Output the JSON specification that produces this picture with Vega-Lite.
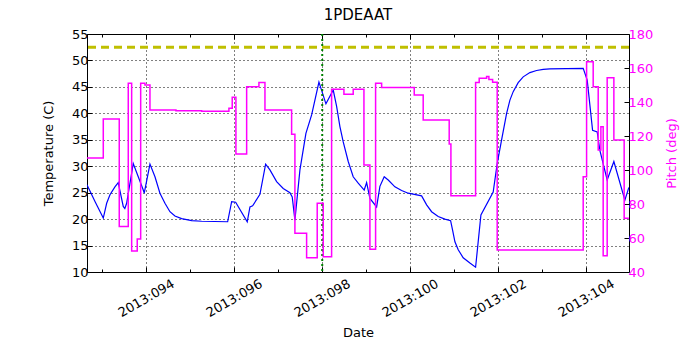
{
  "$schema": "https://vega.github.io/schema/vega-lite/v6.json",
  "width": 542,
  "height": 238,
  "autosize": {"type": "none"},
  "padding": {"left": 87, "top": 34, "right": 71, "bottom": 78},
  "background": "white",
  "config": {
    "font": "DejaVu Sans",
    "view": {"stroke": "black", "strokeWidth": 1},
    "axis": {"labelFont": "DejaVu Sans", "titleFont": "DejaVu Sans", "labelFontSize": 13, "titleFontSize": 13, "titleFontWeight": "normal", "labelColor": "black", "titleColor": "black", "tickColor": "black", "domain": false}
  },
  "title": {"text": "1PDEAAT", "fontSize": 15, "fontWeight": "normal", "font": "DejaVu Sans", "offset": 5, "color": "black"},
  "datasets": {
    "temp": [
      {"day": 92.659, "t": 26.5}, {"day": 92.85, "t": 23.2}, {"day": 93.03, "t": 20.2}, {"day": 93.107, "t": 23.0},
      {"day": 93.182, "t": 24.6}, {"day": 93.295, "t": 26.1}, {"day": 93.37, "t": 26.9},
      {"day": 93.484, "t": 22.4}, {"day": 93.52, "t": 22.0}, {"day": 93.561, "t": 23.0}, {"day": 93.711, "t": 30.5},
      {"day": 93.825, "t": 28.0}, {"day": 93.939, "t": 25.5}, {"day": 93.961, "t": 24.9}, {"day": 94.091, "t": 30.4},
      {"day": 94.205, "t": 28.0}, {"day": 94.318, "t": 24.9}, {"day": 94.432, "t": 23.0}, {"day": 94.545, "t": 21.4},
      {"day": 94.659, "t": 20.6}, {"day": 94.811, "t": 20.1}, {"day": 95.039, "t": 19.7}, {"day": 95.266, "t": 19.6},
      {"day": 95.857, "t": 19.5},
      {"day": 95.948, "t": 23.3}, {"day": 96.039, "t": 23.2}, {"day": 96.302, "t": 19.5}, {"day": 96.364, "t": 22.3},
      {"day": 96.425, "t": 22.5}, {"day": 96.591, "t": 24.7}, {"day": 96.72, "t": 30.4}, {"day": 96.818, "t": 29.3},
      {"day": 96.97, "t": 27.1}, {"day": 97.12, "t": 25.8}, {"day": 97.273, "t": 25.0}, {"day": 97.325, "t": 24.2},
      {"day": 97.386, "t": 19.8},
      {"day": 97.5, "t": 29.3}, {"day": 97.636, "t": 36.2}, {"day": 97.766, "t": 39.7}, {"day": 97.932, "t": 45.9},
      {"day": 98.091, "t": 41.8}, {"day": 98.257, "t": 44.4}, {"day": 98.334, "t": 41.3}, {"day": 98.409, "t": 37.5},
      {"day": 98.484, "t": 34.6}, {"day": 98.598, "t": 30.9}, {"day": 98.711, "t": 28.0}, {"day": 98.825, "t": 26.8},
      {"day": 98.961, "t": 25.5}, {"day": 99.016, "t": 26.9},
      {"day": 99.091, "t": 23.9}, {"day": 99.243, "t": 22.3}, {"day": 99.318, "t": 26.2}, {"day": 99.416, "t": 28.0},
      {"day": 99.507, "t": 27.4}, {"day": 99.659, "t": 26.1}, {"day": 99.811, "t": 25.4}, {"day": 99.961, "t": 24.9},
      {"day": 100.266, "t": 24.4}, {"day": 100.38, "t": 22.7}, {"day": 100.493, "t": 21.4}, {"day": 100.643, "t": 20.5},
      {"day": 100.795, "t": 20.0}, {"day": 100.925, "t": 19.7}, {"day": 100.97, "t": 17.9}, {"day": 101.023, "t": 15.7},
      {"day": 101.098, "t": 14.2}, {"day": 101.211, "t": 12.7}, {"day": 101.364, "t": 11.7}, {"day": 101.493, "t": 10.9},
      {"day": 101.614, "t": 20.8}, {"day": 101.893, "t": 25.1},
      {"day": 101.984, "t": 30.5}, {"day": 102.084, "t": 35.0}, {"day": 102.198, "t": 40.0}, {"day": 102.273, "t": 42.5},
      {"day": 102.348, "t": 44.1}, {"day": 102.461, "t": 45.8}, {"day": 102.575, "t": 46.9}, {"day": 102.727, "t": 47.7},
      {"day": 102.879, "t": 48.1}, {"day": 103.03, "t": 48.3}, {"day": 103.182, "t": 48.4}, {"day": 103.939, "t": 48.5},
      {"day": 104.03, "t": 46.3}, {"day": 104.152, "t": 36.8}, {"day": 104.257, "t": 36.5}, {"day": 104.318, "t": 33.0},
      {"day": 104.484, "t": 27.4}, {"day": 104.636, "t": 30.9}, {"day": 104.886, "t": 23.6}, {"day": 104.977, "t": 26.0}
    ],
    "pitch": [
      {"day": 92.659, "p": 107}, {"day": 93.03, "p": 130}, {"day": 93.393, "p": 66.7}, {"day": 93.598, "p": 151},
      {"day": 93.675, "p": 52.4}, {"day": 93.802, "p": 59.4}, {"day": 93.88, "p": 151}, {"day": 93.977, "p": 150},
      {"day": 94.091, "p": 135.3}, {"day": 94.682, "p": 134.9}, {"day": 95.266, "p": 134.6}, {"day": 95.886, "p": 136.3},
      {"day": 95.961, "p": 142.8}, {"day": 96.045, "p": 109.4}, {"day": 96.289, "p": 149}, {"day": 96.568, "p": 151.4},
      {"day": 96.705, "p": 135.3}, {"day": 97.311, "p": 121}, {"day": 97.386, "p": 62.8}, {"day": 97.652, "p": 48.4},
      {"day": 97.893, "p": 80.4}, {"day": 98.03, "p": 49}, {"day": 98.22, "p": 147.5}, {"day": 98.5, "p": 144.5},
      {"day": 98.711, "p": 147.5}, {"day": 98.955, "p": 103}, {"day": 99.091, "p": 53.4}, {"day": 99.22, "p": 151},
      {"day": 99.357, "p": 148.6}, {"day": 100.098, "p": 144.1}, {"day": 100.302, "p": 129.4}, {"day": 100.893, "p": 115.3},
      {"day": 100.932, "p": 84.9}, {"day": 101.493, "p": 151.4}, {"day": 101.575, "p": 153.9}, {"day": 101.743, "p": 155},
      {"day": 101.795, "p": 153.3}, {"day": 101.88, "p": 151.6}, {"day": 101.984, "p": 52.9}, {"day": 103.939, "p": 96.1},
      {"day": 104.016, "p": 163.7}, {"day": 104.166, "p": 149}, {"day": 104.28, "p": 111.8}, {"day": 104.341, "p": 125.5},
      {"day": 104.393, "p": 49.6}, {"day": 104.484, "p": 154.3}, {"day": 104.636, "p": 117.6}, {"day": 104.87, "p": 71.6},
      {"day": 104.977, "p": 71.6}
    ],
    "limit": [{"t": 52.5}],
    "marker": [{"day": 98.007}]
  },
  "layer": [
    {
      "data": {"name": "temp"},
      "mark": {"type": "line", "color": "#0000ff", "strokeWidth": 1.2, "clip": true},
      "encoding": {
        "x": {"field": "day", "type": "quantitative",
          "scale": {"domain": [92.66, 104.98], "nice": false, "zero": false},
          "axis": {"orient": "bottom", "title": "Date", "values": [93, 94, 95, 96, 97, 98, 99, 100, 101, 102, 103, 104],
            "labelExpr": "datum.value % 2 == 0 ? '2013:' + (datum.value < 100 ? '0' : '') + datum.value : ''",
            "labelAngle": -30, "labelAlign": "center", "labelBaseline": "middle", "labelPadding": 31,
            "tickSize": {"condition": {"test": "datum.value % 2 == 0", "value": -5}, "value": -3},
            "grid": true, "gridColor": "black", "gridDash": [1, 3],
            "gridOpacity": {"condition": {"test": "datum.value % 2 == 0", "value": 1}, "value": 0},
            "titlePadding": 7}},
        "y": {"field": "t", "type": "quantitative",
          "scale": {"domain": [10, 55], "nice": false, "zero": false},
          "axis": {"orient": "left", "title": "Temperature (C)", "values": [10, 15, 20, 25, 30, 35, 40, 45, 50, 55],
            "tickSize": -5, "labelPadding": 4, "grid": true, "gridColor": "black", "gridDash": [1, 3], "titlePadding": 16}}
      }
    },
    {
      "data": {"name": "limit"},
      "mark": {"type": "rule", "color": "#bfbf00", "strokeWidth": 3, "strokeDash": [8, 5]},
      "encoding": {
        "y": {"field": "t", "type": "quantitative", "scale": {"domain": [10, 55], "nice": false, "zero": false}, "axis": null}
      }
    },
    {
      "data": {"name": "marker"},
      "mark": {"type": "rule", "color": "#008000", "strokeWidth": 2, "strokeDash": [2, 3]},
      "encoding": {
        "x": {"field": "day", "type": "quantitative", "axis": null}
      }
    },
    {
      "data": {"name": "pitch"},
      "mark": {"type": "line", "color": "#ff00ff", "strokeWidth": 1.5, "interpolate": "step-after", "clip": true},
      "encoding": {
        "x": {"field": "day", "type": "quantitative",
          "axis": {"orient": "top", "title": null, "labels": false, "grid": false,
            "values": [93, 94, 95, 96, 97, 98, 99, 100, 101, 102, 103, 104],
            "tickSize": {"condition": {"test": "datum.value % 2 == 0", "value": -5}, "value": -3}}},
        "y": {"field": "p", "type": "quantitative",
          "scale": {"domain": [40, 180], "nice": false, "zero": false},
          "axis": {"orient": "right", "title": "Pitch (deg)", "titleAngle": -90, "values": [40, 60, 80, 100, 120, 140, 160, 180],
            "tickSize": -5, "labelPadding": 4, "grid": false, "labelColor": "#ff00ff", "titleColor": "#ff00ff", "titlePadding": 26}}
      }
    }
  ],
  "resolve": {"scale": {"y": "independent"}, "axis": {"x": "independent"}}
}
